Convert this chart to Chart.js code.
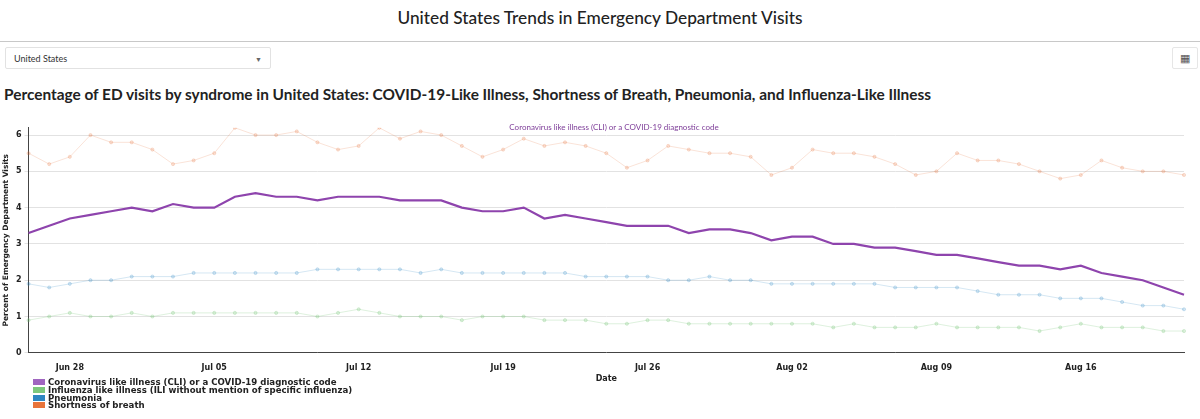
<!DOCTYPE html>
<html>
<head>
<meta charset="utf-8">
<script src="https://cdn.jsdelivr.net/npm/chart.js@4"></script>
<style>
body { margin: 0; width: 1200px; height: 419px; overflow: hidden; background: #fff; font-family: Lato, sans-serif; position: relative; }
h1 { position: absolute; top: 7px; left: 0; width: 1200px; text-align: center; margin: 0; font-size: 17.3px; font-weight: 500; color: #222; }
.rule { position: absolute; top: 41px; left: 0; width: 1200px; border-top: 1px solid #c8c8c8; }
.select { position: absolute; top: 47px; left: 5px; width: 266px; height: 22px; border: 1px solid #e2e2e2; border-radius: 2px; font-size: 9px; color: #333; line-height: 22px; box-sizing: border-box; padding-left: 8px; }
.select span { position: absolute; right: 8px; top: 0; font-size: 7px; color: #666; }
.icon { position: absolute; top: 47px; left: 1172px; width: 26px; height: 22px; border: 1px solid #e6e6e6; border-radius: 2px; box-sizing: border-box; font-size: 11px; text-align: center; line-height: 20px; color: #555; }
h2 { position: absolute; top: 85px; left: 4px; margin: 0; font-size: 15.4px; font-weight: 700; color: #222; }
#wrap { position: absolute; top: 120px; left: 0; width: 1196px; height: 264px; }
#legend { position: absolute; top: 379px; left: 33px; font-family: "DejaVu Sans", sans-serif; font-weight: bold; font-size: 8.6px; color: #222; line-height: 7.8px; }
#legend div { height: 7.8px; white-space: nowrap; }
#legend i { display: inline-block; width: 12px; height: 6px; margin-right: 3px; vertical-align: 0; }
</style>
</head>
<body>
<h1>United States Trends in Emergency Department Visits</h1>
<div class="rule"></div>
<div class="select">United States<span>&#9660;</span></div>
<div class="icon">&#9638;</div>
<h2>Percentage of ED visits by syndrome in United States: COVID-19-Like Illness, Shortness of Breath, Pneumonia, and Influenza-Like Illness</h2>
<div id="wrap"><canvas id="chart"></canvas></div>
<div id="legend"></div>
<script>
const seriesNames = [
  'Coronavirus like illness (CLI) or a COVID-19 diagnostic code',
  'Influenza like illness (ILI without mention of specific influenza)',
  'Pneumonia',
  'Shortness of breath'
];
const legendColors = ['#a066c0', '#7dc87d', '#2e86c1', '#e8743b'];

// daily, Jun 26 .. Aug 21
const cli = [3.3, 3.5, 3.7, 3.8, 3.9, 4.0, 3.9, 4.1, 4.0, 4.0, 4.3, 4.4, 4.3, 4.3, 4.2, 4.3, 4.3, 4.3, 4.2,
  4.2, 4.2, 4.0, 3.9, 3.9, 4.0, 3.7, 3.8, 3.7, 3.6, 3.5, 3.5, 3.5, 3.3, 3.4, 3.4, 3.3, 3.1, 3.2,
  3.2, 3.0, 3.0, 2.9, 2.9, 2.8, 2.7, 2.7, 2.6, 2.5, 2.4, 2.4, 2.3, 2.4, 2.2, 2.1, 2.0, 1.8, 1.6];
const ili = [0.9, 1.0, 1.1, 1.0, 1.0, 1.1, 1.0, 1.1, 1.1, 1.1, 1.1, 1.1, 1.1, 1.1, 1.0, 1.1, 1.2, 1.1, 1.0,
  1.0, 1.0, 0.9, 1.0, 1.0, 1.0, 0.9, 0.9, 0.9, 0.8, 0.8, 0.9, 0.9, 0.8, 0.8, 0.8, 0.8, 0.8, 0.8,
  0.8, 0.7, 0.8, 0.7, 0.7, 0.7, 0.8, 0.7, 0.7, 0.7, 0.7, 0.6, 0.7, 0.8, 0.7, 0.7, 0.7, 0.6, 0.6];
const pneumonia = [1.9, 1.8, 1.9, 2.0, 2.0, 2.1, 2.1, 2.1, 2.2, 2.2, 2.2, 2.2, 2.2, 2.2, 2.3, 2.3, 2.3, 2.3, 2.3,
  2.2, 2.3, 2.2, 2.2, 2.2, 2.2, 2.2, 2.2, 2.1, 2.1, 2.1, 2.1, 2.0, 2.0, 2.1, 2.0, 2.0, 1.9, 1.9,
  1.9, 1.9, 1.9, 1.9, 1.8, 1.8, 1.8, 1.8, 1.7, 1.6, 1.6, 1.6, 1.5, 1.5, 1.5, 1.4, 1.3, 1.3, 1.2];
const breath = [5.5, 5.2, 5.4, 6.0, 5.8, 5.8, 5.6, 5.2, 5.3, 5.5, 6.2, 6.0, 6.0, 6.1, 5.8, 5.6, 5.7, 6.2, 5.9,
  6.1, 6.0, 5.7, 5.4, 5.6, 5.9, 5.7, 5.8, 5.7, 5.5, 5.1, 5.3, 5.7, 5.6, 5.5, 5.5, 5.4, 4.9, 5.1,
  5.6, 5.5, 5.5, 5.4, 5.2, 4.9, 5.0, 5.5, 5.3, 5.3, 5.2, 5.0, 4.8, 4.9, 5.3, 5.1, 5.0, 5.0, 4.9];

const months = ['Jan','Feb','Mar','Apr','May','Jun','Jul','Aug','Sep','Oct','Nov','Dec'];
const dates = [];
for (let i = 0; i < cli.length; i++) {
  const d = new Date(2020, 5, 26 + i);
  dates.push(months[d.getMonth()] + ' ' + String(d.getDate()).padStart(2, '0'));
}

const faint = (c) => ({
  borderColor: c, backgroundColor: c, pointBackgroundColor: c, pointBorderColor: c,
  borderWidth: 1, pointRadius: 1.6, tension: 0
});

const topLabel = {
  id: 'topLabel',
  afterDraw(chart) {
    const { ctx, chartArea } = chart;
    ctx.save();
    ctx.font = '8px Lato, sans-serif';
    ctx.fillStyle = '#7d3c98';
    ctx.textAlign = 'center';
    ctx.fillText(seriesNames[0], 614, chartArea.top + 2);
    ctx.restore();
  }
};

new Chart(document.getElementById('chart'), {
  type: 'line',
  data: {
    labels: dates,
    datasets: [
      { label: seriesNames[0], data: cli, borderColor: '#8e44ad', backgroundColor: '#8e44ad', borderWidth: 2.2, pointRadius: 0, tension: 0 },
      Object.assign({ label: seriesNames[1], data: ili }, faint('rgba(125,200,125,0.25)')),
      Object.assign({ label: seriesNames[2], data: pneumonia }, faint('rgba(46,134,193,0.2)')),
      Object.assign({ label: seriesNames[3], data: breath }, faint('rgba(232,116,59,0.2)'))
    ]
  },
  options: {
    responsive: true,
    maintainAspectRatio: false,
    animation: false,
    layout: { padding: { top: 6, right: 12 } },
    plugins: { legend: { display: false }, tooltip: { enabled: false } },
    scales: {
      x: {
        offset: false,
        grid: { display: false, drawTicks: true },
        border: { color: '#444', width: 1 },
        ticks: {
          autoSkip: false, maxRotation: 0, padding: 2,
          font: { family: 'DejaVu Sans', weight: 'bold', size: 8 }, color: '#222',
          callback: function (v, i) { return (i - 2) % 7 === 0 ? dates[i] : null; }
        },
        title: { display: true, text: 'Date', padding: 0, font: { family: 'DejaVu Sans', weight: 'bold', size: 8 }, color: '#222' }
      },
      y: {
        min: 0, max: 6.2,
        afterBuildTicks: (s) => { s.ticks = [0, 1, 2, 3, 4, 5, 6].map(v => ({ value: v })); },
        grid: { color: '#e2e2e2', drawTicks: true, tickLength: 4 },
        border: { color: '#444', width: 1 },
        ticks: { font: { family: 'DejaVu Sans', weight: 'bold', size: 8 }, color: '#222', padding: 3 },
        title: { display: true, text: 'Percent of Emergency Department Visits', padding: 2, font: { family: 'DejaVu Sans', weight: 'bold', size: 7.5 }, color: '#222' }
      }
    }
  },
  plugins: [topLabel]
});

document.getElementById('legend').innerHTML = seriesNames
  .map((n, i) => '<div><i style="background:' + legendColors[i] + '"></i>' + n + '</div>').join('');
</script>
</body>
</html>
